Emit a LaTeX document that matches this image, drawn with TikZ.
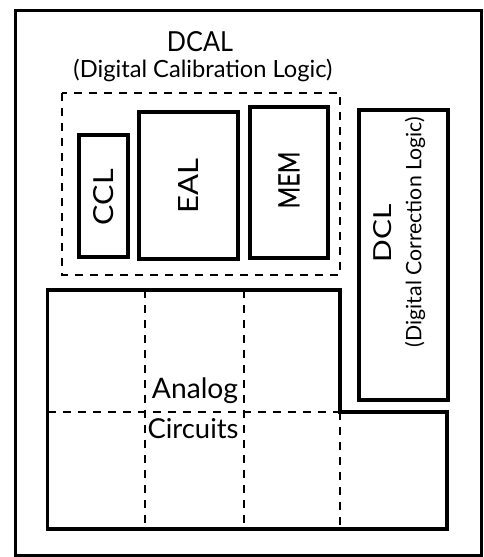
\documentclass[tikz,border=0pt]{standalone}
\usepackage{fontspec}
\setmainfont{Lato}
\begin{document}
\begin{tikzpicture}[x=1pt,y=-1pt,
  solidbox/.style={draw,line width=3.6pt,inner sep=0pt,anchor=north west},
  dashline/.style={line width=1.8pt,dash pattern=on 8pt off 7pt},
  txt/.style={inner sep=0pt},
  vlabel/.style={txt,rotate=90}]
\useasboundingbox (0,0) rectangle (484,557);
\draw[line width=3pt] (15,10) rectangle (481,555);
% titles
\node[txt] (dcal) at (200,42) {\resizebox{66pt}{20pt}{DCAL}};
\node[txt] (dcalsub) at (203,70) {\resizebox{259pt}{!}{(Digital Calibration Logic)}};
% dashed DCAL group
\draw[dashline] (62,93) rectangle (340,275);
\node[solidbox,minimum width=49pt,minimum height=122pt] (ccl) at (77,133) {};
\node[solidbox,minimum width=99pt,minimum height=147pt] (eal) at (137,110) {};
\node[solidbox,minimum width=78pt,minimum height=151pt] (mem) at (248,105) {};
\node[solidbox,minimum width=89pt,minimum height=290pt] (dcl) at (357,108) {};
\node[vlabel] (ccltxt) at (ccl.center |- 0,197) {\resizebox{56pt}{20pt}{CCL}};
\node[vlabel] (ealtxt) at (eal.center |- 0,186) {\resizebox{55pt}{20pt}{EAL}};
\node[vlabel] (memtxt) at (mem.center |- 0,180) {\resizebox{57pt}{21pt}{\addfontfeatures{FakeBold=0.6}MEM}};
\node[vlabel] (dcltxt) at (383,233) {\resizebox{58pt}{18pt}{DCL}};
\node[vlabel] (dclsub) at (415,232) {\resizebox{230pt}{!}{(Digital Correction Logic)}};
% analog circuits
\draw[line width=3.6pt] (47.5,290) -- (340,290) -- (340,412) -- (447,412) -- (447,529) -- (47.5,529) -- cycle;
\coordinate (v1t) at (145,290); \coordinate (v1b) at (145,529);
\coordinate (v2t) at (244,290); \coordinate (v2b) at (244,529);
\coordinate (v3t) at (340,412); \coordinate (v3b) at (340,529);
\coordinate (hl) at (47.5,412);
\draw[dashline] (v1t) -- (v1b);
\draw[dashline] (v2t) -- (v2b);
\draw[dashline] (v3t) -- (v3b);
\draw[dashline] (hl) -- (v3t);
\node[txt,anchor=base] (analog) at (195,398) {\resizebox{86pt}{!}{Analog}};
\node[txt,anchor=base] (circuits) at (193,438) {\resizebox{91pt}{!}{Circuits}};
\end{tikzpicture}
\end{document}
